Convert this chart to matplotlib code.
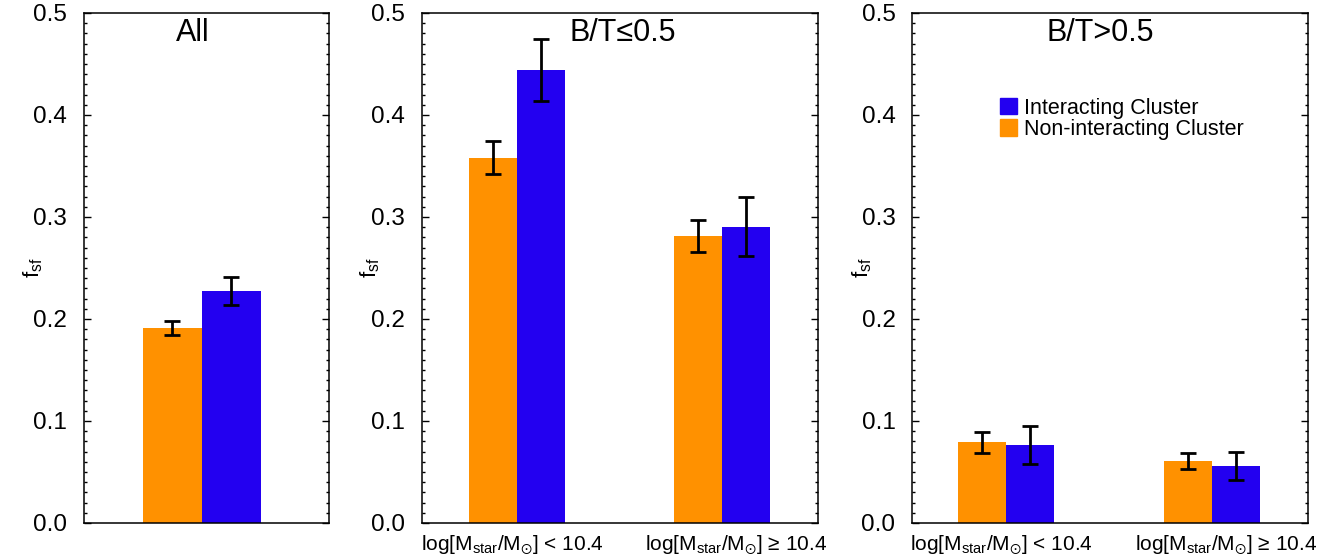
import matplotlib
matplotlib.use('Agg')
import matplotlib.pyplot as plt
from matplotlib.ticker import MultipleLocator
from matplotlib.patches import Patch

plt.rcParams['font.family'] = ['Liberation Sans', 'DejaVu Sans']
plt.rcParams['mathtext.fontset'] = 'custom'
plt.rcParams['mathtext.rm'] = 'Liberation Sans'
plt.rcParams['mathtext.default'] = 'regular'

ORANGE = '#FF9100'
BLUE = '#2300F0'

# star-forming fractions, non-interacting (orange) vs interacting (blue) clusters
titles = ['All', 'B/T\u22640.5', 'B/T>0.5']
mass_labels = [r'log[M$_{star}$/M$_{\odot}$] < 10.4',
               r'log[M$_{star}$/M$_{\odot}$] ' + '\u2265 10.4']

all_non = [0.191]
all_non_err = [0.0069]
all_int = [0.2275]
all_int_err = [0.0135]

disk_non = [0.358, 0.2814]
disk_non_err = [0.0163, 0.0159]
disk_int = [0.444, 0.2905]
disk_int_err = [0.0306, 0.029]

bulge_non = [0.079, 0.0608]
bulge_non_err = [0.0106, 0.0078]
bulge_int = [0.0765, 0.0559]
bulge_int_err = [0.019, 0.0139]

W = 0.234
fig = plt.figure(figsize=(13.27, 5.54), dpi=100)
axes = [fig.add_axes([0.0633, 0.056, 0.1846, 0.9206]),
        fig.add_axes([0.318, 0.056, 0.2984, 0.9206]),
        fig.add_axes([0.6873, 0.056, 0.2984, 0.9206])]

panels = [(all_non, all_non_err, all_int, all_int_err),
          (disk_non, disk_non_err, disk_int, disk_int_err),
          (bulge_non, bulge_non_err, bulge_int, bulge_int_err)]
xlims = [(-0.468, 0.504), (-0.463, 1.468), (-0.456, 1.466)]
title_x = [0.445, 0.508, 0.475]
ylab_x = [-0.208, -0.131, -0.126]

for i, ax in enumerate(axes):
    non, non_e, inter, inter_e = panels[i]
    x = list(range(len(non)))
    xo = [v - W / 2 for v in x]
    xb = [v + W / 2 for v in x]
    ekw = dict(ecolor='black', elinewidth=2.0, capsize=6, capthick=2.0)
    ax.bar(xo, non, W, color=ORANGE, yerr=non_e, error_kw=ekw, zorder=2)
    ax.bar(xb, inter, W, color=BLUE, yerr=inter_e, error_kw=ekw, zorder=2)

    ax.set_xlim(*xlims[i])
    ax.set_ylim(0, 0.5)
    ax.yaxis.set_major_locator(MultipleLocator(0.1))
    ax.yaxis.set_minor_locator(MultipleLocator(0.01))
    ax.yaxis.set_major_formatter(plt.FormatStrFormatter('%.1f'))
    ax.tick_params(axis='y', which='both', direction='in', left=True, right=True,
                   labelsize=17.5, pad=12, width=1.0)
    ax.tick_params(axis='y', which='major', length=5)
    ax.tick_params(axis='y', which='minor', length=2.5)
    for s in ax.spines.values():
        s.set_linewidth(1.1)

    if i == 0:
        ax.set_xticks([])
    else:
        ax.set_xticks([-0.024, 1.068])
        ax.set_xticklabels(mass_labels, fontsize=15)
        ax.tick_params(axis='x', length=0, pad=7)

    ax.text(title_x[i], 0.961, titles[i], transform=ax.transAxes,
            ha='center', va='center', fontsize=22)
    ax.set_ylabel('f$_{sf}$', fontsize=16, va='center')
    ax.yaxis.set_label_coords(ylab_x[i], 0.5)

handles = [Patch(color=BLUE, label='Interacting Cluster'),
           Patch(color=ORANGE, label='Non-interacting Cluster')]
axes[2].legend(handles=handles, loc='upper left', bbox_to_anchor=(0.222, 0.834),
               frameon=False, fontsize=15.5, handlelength=0.8, handleheight=0.8,
               handletextpad=0.3, labelspacing=0.02, borderpad=0, borderaxespad=0)

fig.savefig('out.png', dpi=100)
